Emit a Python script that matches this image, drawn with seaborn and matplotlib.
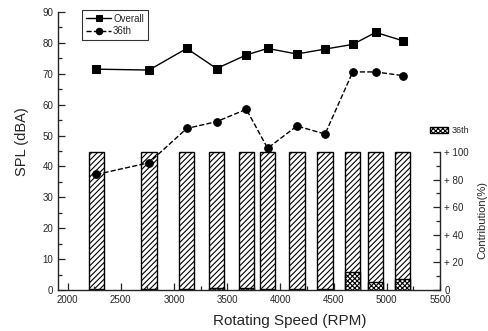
import matplotlib
matplotlib.use("Agg")
import matplotlib.pyplot as plt
import seaborn as sns
import pandas as pd
from matplotlib.ticker import MultipleLocator, FixedLocator
from matplotlib.patches import Patch

# ---- data ----
rpm = [2270, 2765, 3120, 3400, 3680, 3880, 4155, 4420, 4680, 4895, 5150]
overall = [71.5, 71.2, 78.2, 71.7, 76.1, 78.2, 76.4, 78.0, 79.5, 83.4, 80.7]
h36 = [37.4, 41.2, 52.3, 54.5, 58.5, 45.9, 53.1, 50.5, 70.6, 70.6, 69.4]
contrib36 = [0.8, 1.0, 1.0, 1.5, 1.5, 0.8, 0.8, 0.8, 13.0, 6.0, 8.0]
total_pct = [100] * len(rpm)
right_ticks = [0, 20, 40, 60, 80, 100]
right_minor = [10, 30, 50, 70, 90]
right_labels = ["0", "+ 20", "+ 40", "+ 60", "+ 80", "+ 100"]

sns.set_style("ticks")
plt.rcParams["font.family"] = ["Liberation Sans", "DejaVu Sans"]
plt.rcParams["hatch.linewidth"] = 0.8

df = pd.DataFrame({"rpm": rpm, "overall": overall, "h36": h36})

fig = plt.figure(figsize=(4.89, 3.31), dpi=100)
rect = [58 / 489, 41 / 331, 382 / 489, 278 / 331]
ax = fig.add_axes(rect)
ax2 = ax.twinx()
ax.set_zorder(ax2.get_zorder() + 1)
ax.patch.set_visible(False)

# bars on the right axis
ax2.bar(rpm, total_pct, width=145, facecolor="white", edgecolor="black",
        hatch="//////", linewidth=1.0)
ax2.bar(rpm, contrib36, width=145, facecolor="white", edgecolor="black",
        hatch="xxxxxxx", linewidth=1.0)
ax2.set_ylim(0, 201.5)
ax2.yaxis.set_major_locator(FixedLocator(right_ticks))
ax2.set_yticklabels(right_labels)
ax2.yaxis.set_minor_locator(FixedLocator(right_minor))
ax2.tick_params(axis="y", which="major", direction="in", length=5, width=0.9,
                labelsize=7, pad=3)
ax2.tick_params(axis="y", which="minor", direction="in", length=3, width=0.9)
ax2.spines["right"].set_bounds(0, 100)
ax2.spines["right"].set_linewidth(1.0)
for s in ["top", "left", "bottom"]:
    ax2.spines[s].set_visible(False)
ax2.set_ylabel("")
fig.text(482 / 489, 1 - 220 / 331, "Contribution(%)", rotation=90,
         ha="center", va="center", fontsize=8)

# lines on the left axis
sns.lineplot(data=df, x="rpm", y="overall", ax=ax, color="black", marker="s",
             markersize=5.5, linewidth=1.0, markeredgecolor="black",
             label="Overall")
sns.lineplot(data=df, x="rpm", y="h36", ax=ax, color="black", marker="o",
             markersize=5.5, linewidth=1.0, linestyle="--", dashes=(3, 3),
             markeredgecolor="black", label="36th")

ax.set_xlim(1910, 5500)
ax.set_ylim(0, 90)
ax.xaxis.set_major_locator(MultipleLocator(500))
ax.xaxis.set_minor_locator(MultipleLocator(250))
ax.yaxis.set_major_locator(MultipleLocator(10))
ax.yaxis.set_minor_locator(MultipleLocator(5))
ax.tick_params(which="major", direction="in", length=5, width=0.9, labelsize=7)
ax.tick_params(which="minor", direction="in", length=3, width=0.9)
for s in ["top", "right"]:
    ax.spines[s].set_visible(False)
ax.spines["left"].set_linewidth(1.0)
ax.spines["bottom"].set_linewidth(1.0)
ax.set_xlabel("")
ax.set_ylabel("")
fig.text(290 / 489, 1 - 321 / 331, "Rotating Speed (RPM)", ha="center",
         va="center", fontsize=11)
fig.text(22 / 489, 1 - 142 / 331, "SPL (dBA)", rotation=90, ha="center",
         va="center", fontsize=10.5)

leg = ax.legend(loc="upper left", bbox_to_anchor=(82 / 489, 1 - 10 / 331),
                bbox_transform=fig.transFigure, frameon=True, fancybox=False,
                edgecolor="black", fontsize=7, handlelength=2.6,
                borderpad=0.4, labelspacing=0.25, handletextpad=0.2,
                borderaxespad=0, markerscale=0.85)
leg.get_frame().set_linewidth(0.8)

leg2 = ax2.legend(handles=[Patch(facecolor="white", edgecolor="black",
                                 hatch="xxxxxxx", label="36th")],
                  loc="center left", bbox_to_anchor=(430 / 489, 1 - 131 / 331),
                  bbox_transform=fig.transFigure, frameon=False, fontsize=6.5,
                  handlelength=2.0, handleheight=0.6, handletextpad=0.4,
                  borderaxespad=0, borderpad=0)

fig.savefig("out.png", dpi=100)
